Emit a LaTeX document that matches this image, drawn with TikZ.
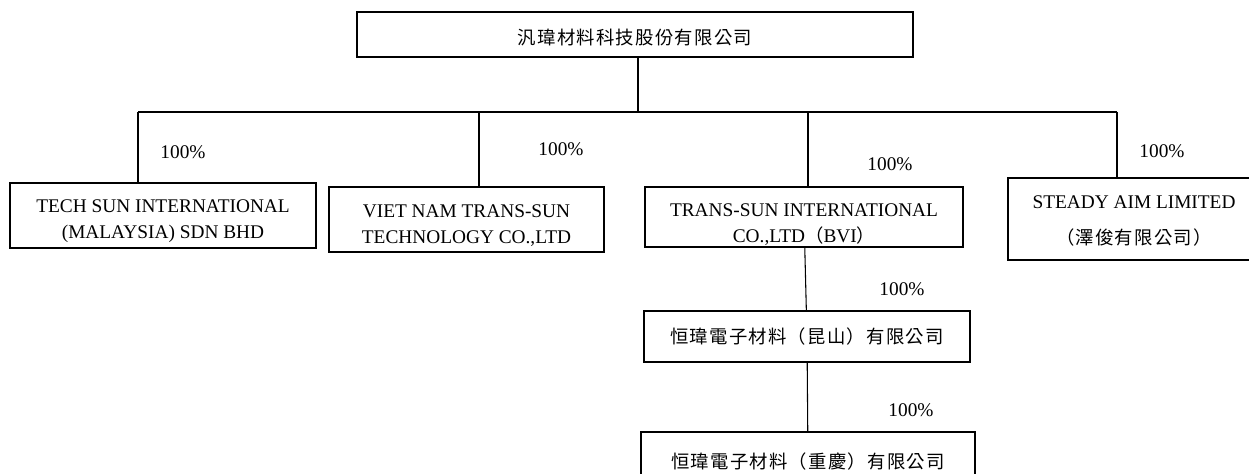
\documentclass[tikz,border=0pt]{standalone}
\usepackage{fontspec}
\setmainfont{Liberation Serif}
\newfontfamily\cjk[LetterSpace=7,Scale=0.95]{Noto Sans CJK TC}
\newfontfamily\cjkp[Scale=0.95]{Noto Sans CJK TC}

\begin{document}
\begin{tikzpicture}[
  x=0.75pt, y=-0.75pt,
  company/.style={rectangle, draw=black, line width=0.8pt, inner sep=0pt},
  caption/.style={align=center, inner sep=0pt, font=\fontsize{14.5pt}{19.5pt}\selectfont},
  share/.style={font=\fontsize{14.5pt}{17pt}\selectfont},
  link/.style={draw=black, line width=0.8pt},
  ]
\useasboundingbox (0,0) rectangle (1249,474);

% boxes
\node[company, minimum width=417pt, minimum height=33.75pt] (parent) at (635,34.5) {};
\node[company, minimum width=229.5pt, minimum height=48.75pt] (tech) at (163,215.5) {};
\node[company, minimum width=206.25pt, minimum height=48.75pt] (viet) at (466.5,219.5) {};
\node[company, minimum width=238.5pt, minimum height=45pt] (bvi) at (804,217) {};
\node[company, minimum width=189pt, minimum height=61.5pt] (steady) at (1134,219) {};
\node[company, minimum width=244.5pt, minimum height=38.25pt] (kunshan) at (807,336.5) {};
\node[company, minimum width=250.5pt, minimum height=45pt] (chongqing) at (808,462) {};

% names
\node[caption] (parent-t) at (635,38) {\cjk 汎瑋材料科技股份有限公司};
\node[caption] (tech-t) at (163,221.5) {TECH SUN INTERNATIONAL\\(MALAYSIA) SDN BHD};
\node[caption] (viet-t) at (466.5,226) {VIET NAM TRANS-SUN\\TECHNOLOGY CO.,LTD};
\node[caption] (bvi-t) at (804,224.5) {TRANS-SUN INTERNATIONAL\\CO.,LTD{\cjkp （}BVI{\cjkp ）}};
\node[caption] (steady-t) at (1134,221) {STEADY AIM LIMITED\\[8pt]{\cjk （澤俊有限公司）}};
\node[caption] (kunshan-t) at (807,336.5) {\cjk 恒瑋電子材料（昆山）有限公司};
\node[caption] (chongqing-t) at (808,462) {\cjk 恒瑋電子材料（重慶）有限公司};

% shares
\node[share] (s1) at (183,152) {100\%};
\node[share] (s2) at (561,149) {100\%};
\node[share] (s3) at (890,164) {100\%};
\node[share] (s4) at (1162,151) {100\%};
\node[share] (s5) at (902,289) {100\%};
\node[share] (s6) at (911,410) {100\%};

\coordinate (bus) at (638,112);
\coordinate (d1) at (138,112);
\coordinate (d2) at (479,112);
\coordinate (d3) at (808,112);
\coordinate (d4) at (1117,112);

\draw[link] (parent.south -| bus) -- (bus);
\draw[link] (d1) -- (d4);
\draw[link] (d1) -- (d1 |- tech.north);
\draw[link] (d2) -- (d2 |- viet.north);
\draw[link] (d3) -- (d3 |- bvi.north);
\draw[link] (d4) -- (d4 |- steady.north);

\draw[link] (bvi) -- (kunshan);
\draw[link] (kunshan) -- (chongqing);

\end{tikzpicture}
\end{document}
